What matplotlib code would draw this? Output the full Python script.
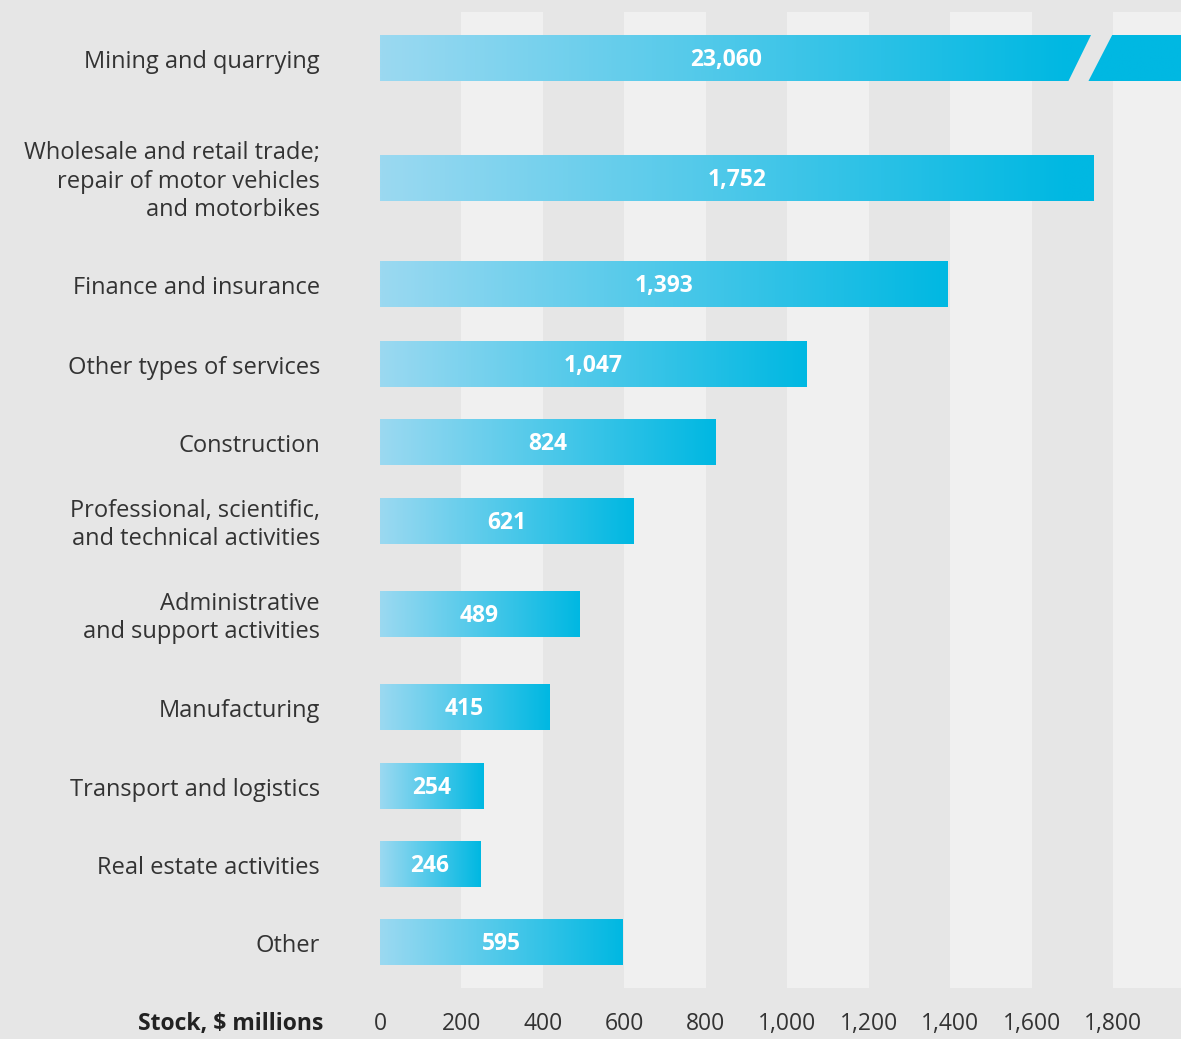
import numpy as np
import matplotlib.pyplot as plt
from matplotlib.colors import LinearSegmentedColormap
from matplotlib.patches import Polygon
import matplotlib.transforms as mtransforms

plt.rcParams['font.family'] = ['Open Sans', 'DejaVu Sans']

# Stock by sector, $ millions
sectors = ["Mining and quarrying",
           "Wholesale and retail trade;\nrepair of motor vehicles\nand motorbikes",
           "Finance and insurance",
           "Other types of services",
           "Construction",
           "Professional, scientific,\nand technical activities",
           "Administrative\nand support activities",
           "Manufacturing",
           "Transport and logistics",
           "Real estate activities",
           "Other"]
stock = [23060, 1752, 1393, 1047, 824, 621, 489, 415, 254, 246, 595]
ticks = [0, 200, 400, 600, 800, 1000, 1200, 1400, 1600, 1800]

# row centres (rows are spaced unevenly to fit multi-line labels)
rows = [58, 178, 284, 364, 442, 521, 614, 707, 786, 864, 942]
bar_h = 47
x_max = 1966
break_at = 1690  # where the off-scale bar gets its break

bg = "#e6e6e6"
band = "#f0f0f0"
text_c = "#333333"
grad = LinearSegmentedColormap.from_list("bar", ["#9bd9f1", "#00b8e2"])

fig = plt.figure(figsize=(11.81, 10.39), dpi=100, facecolor=bg)
ax = fig.add_axes([380 / 1181, 51 / 1039, 801 / 1181, 976 / 1039])
ax.set_facecolor(bg)
ax.set_xlim(0, x_max)
ax.set_ylim(988, 12)

# alternating vertical bands
for i, t in enumerate(ticks):
    if i % 2 == 1:
        ax.axvspan(t, t + 200, color=band, zorder=0, lw=0)
ax.axvspan(ticks[-1] + 200, x_max, color=band, zorder=0, lw=0)

for y, v in zip(rows, stock):
    shown = min(v, x_max)
    bars = ax.barh(y, shown, height=bar_h, facecolor="none", lw=0, zorder=2)
    # gradient runs light -> cyan along the bar, saturating at the break
    xs = np.linspace(0, shown, 512)
    strip = np.clip(xs / min(v, break_at), 0, 1).reshape(1, -1)
    im = ax.imshow(strip, cmap=grad, aspect="auto", zorder=3, vmin=0, vmax=1,
                   interpolation="bilinear",
                   extent=[0, shown, y + bar_h / 2, y - bar_h / 2])
    im.set_clip_path(bars[0])
    centre = v / 2 if v < x_max else 1700 / 2
    ax.text(centre, y + 2, f"{v:,}", color="white", fontsize=16.5,
            fontweight="bold", ha="center", va="center", zorder=5)

# break mark on the off-scale bar
y0 = rows[0]
gap = Polygon([(1688, y0 + bar_h / 2 + 1), (1747, y0 - bar_h / 2 - 1),
               (1799, y0 - bar_h / 2 - 1), (1737, y0 + bar_h / 2 + 1)],
              closed=True, facecolor=bg, edgecolor="none", zorder=4)
ax.add_patch(gap)

# category labels to the left of the plot
trans = mtransforms.blended_transform_factory(fig.transFigure, ax.transData)
for y, s in zip(rows, sectors):
    fig.text(320 / 1181, y + 4, s, transform=trans, ha="right", va="center",
             fontsize=17, color=text_c, linespacing=1.25)

ax.set_xticks(ticks)
ax.set_xticklabels([f"{t:,}" for t in ticks], fontsize=16.5, color=text_c)
ax.tick_params(axis="x", length=0, pad=17)
ax.set_yticks([])
for s in ax.spines.values():
    s.set_visible(False)

fig.text(323 / 1181, 1 - 1024 / 1039, "Stock, $ millions", ha="right",
         va="center", fontsize=16.5, fontweight="bold", color="#222222")

fig.savefig("out.png", dpi=100, facecolor=bg)
